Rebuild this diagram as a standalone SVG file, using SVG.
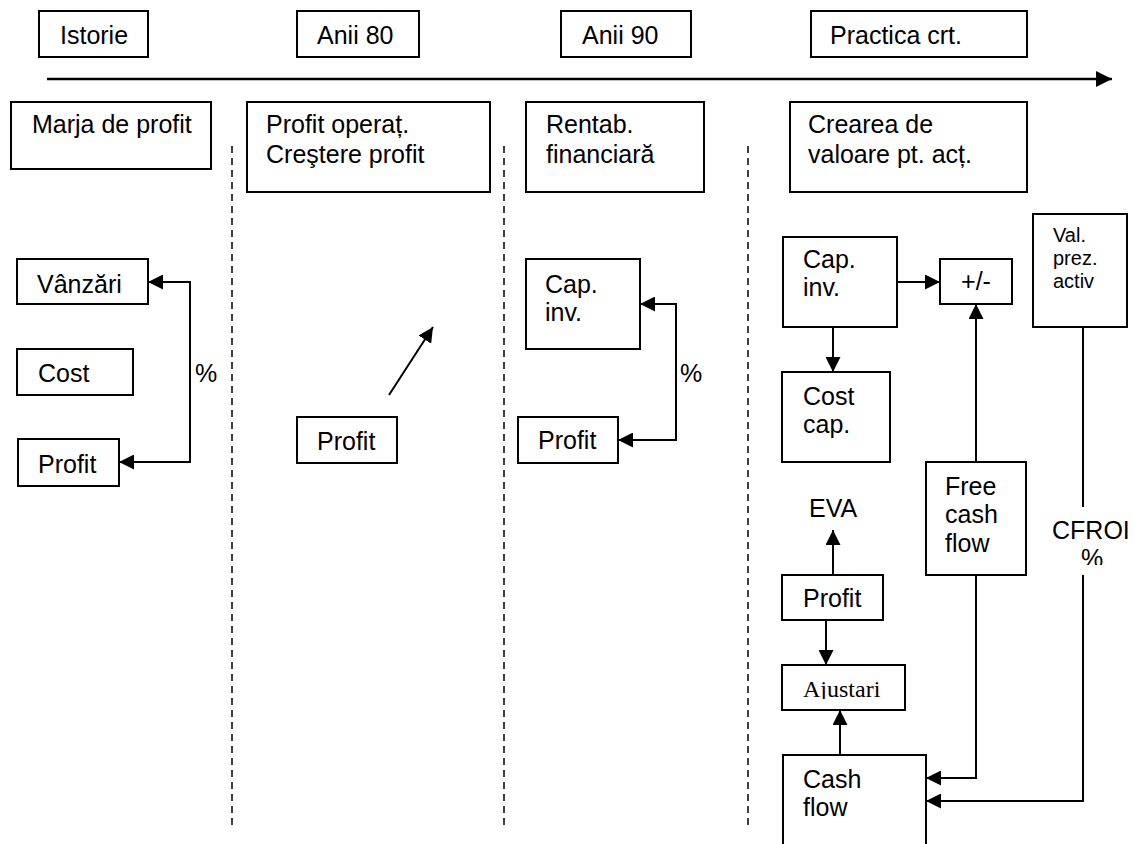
<svg xmlns="http://www.w3.org/2000/svg" width="1134" height="844" viewBox="0 0 1134 844">
<style>
.box{fill:#fff;stroke:#000;stroke-width:2}
.t{font-family:"Liberation Sans",Arial,sans-serif;font-size:25px;fill:#000}
.s{font-family:"Liberation Sans",Arial,sans-serif;font-size:20px;fill:#000}
.serif{font-family:"Liberation Serif","Times New Roman",serif;font-size:24px;fill:#000}
.c{fill:none;stroke:#000;stroke-width:2}
.dash{fill:none;stroke:#000;stroke-width:1.5;stroke-dasharray:7 5}
</style>
<defs>
<marker id="ah" markerUnits="userSpaceOnUse" markerWidth="15" markerHeight="15" refX="15" refY="7.5" orient="auto-start-reverse">
<path d="M0,0 L15,7.5 L0,15 z" fill="#000"/>
</marker>
<marker id="big" markerUnits="userSpaceOnUse" markerWidth="16" markerHeight="16" refX="16" refY="8" orient="auto">
<path d="M0,0 L16,8 L0,16 z" fill="#000"/>
</marker>
<clipPath id="clipPct"><rect x="1060" y="540" width="74" height="25"/></clipPath>
<clipPath id="clipAj"><rect x="782" y="665" width="123" height="34"/></clipPath>
</defs>
<rect width="1134" height="844" fill="#fff"/>

<g id="dividers">
<line class="dash" x1="232" y1="146" x2="232" y2="825"/>
<line class="dash" x1="504" y1="146" x2="504" y2="825"/>
<line class="dash" x1="748" y1="146" x2="748" y2="825"/>
</g>

<g id="connectors">
<line class="c" x1="47" y1="79" x2="1112" y2="79" style="stroke-width:2.5" marker-end="url(#big)"/>
<path class="c" d="M148 282 H190 V462 H119" marker-start="url(#ah)" marker-end="url(#ah)"/>
<line class="c" x1="389" y1="395" x2="433" y2="327" marker-end="url(#ah)"/>
<path class="c" d="M640 304 H676 V440 H618" marker-start="url(#ah)" marker-end="url(#ah)"/>
<line class="c" x1="897" y1="282" x2="940" y2="282" marker-end="url(#ah)"/>
<line class="c" x1="833" y1="327" x2="833" y2="372" marker-end="url(#ah)"/>
<line class="c" x1="976" y1="462" x2="976" y2="304" marker-end="url(#ah)"/>
<line class="c" x1="833" y1="575" x2="833" y2="530" marker-end="url(#ah)"/>
<line class="c" x1="826" y1="620" x2="826" y2="665" marker-end="url(#ah)"/>
<line class="c" x1="840" y1="755" x2="840" y2="710" marker-end="url(#ah)"/>
<path class="c" d="M976 575 V778 H926" marker-end="url(#ah)"/>
<path class="c" d="M1083 327 V507"/>
<path class="c" d="M1083 575 V801 H926" marker-end="url(#ah)"/>
<text class="t" x="195" y="382">%</text>
<text class="t" x="680" y="382">%</text>
</g>

<g id="istorie"><rect class="box" x="39" y="11" width="109" height="46"/><text class="t" x="60" y="44">Istorie</text></g>
<g id="anii80"><rect class="box" x="297" y="11" width="122" height="46"/><text class="t" x="317" y="44">Anii 80</text></g>
<g id="anii90"><rect class="box" x="561" y="11" width="130" height="46"/><text class="t" x="582" y="44">Anii 90</text></g>
<g id="practica"><rect class="box" x="811" y="11" width="216" height="46"/><text class="t" x="830" y="44">Practica crt.</text></g>

<g id="marja"><rect class="box" x="11" y="102" width="200" height="67"/><text class="t" x="32" y="133">Marja de profit</text></g>
<g id="profitoperat"><rect class="box" x="247" y="102" width="243" height="90"/><text class="t" x="266" y="133">Profit operaț.</text><text class="t" x="266" y="163">Creştere profit</text></g>
<g id="rentab"><rect class="box" x="526" y="102" width="178" height="90"/><text class="t" x="546" y="133">Rentab.</text><text class="t" x="546" y="163">financiară</text></g>
<g id="crearea"><rect class="box" x="790" y="102" width="237" height="90"/><text class="t" x="808" y="133">Crearea de</text><text class="t" x="808" y="163">valoare pt. acț.</text></g>

<g id="vanzari"><rect class="box" x="17" y="259" width="131" height="45"/><text class="t" x="37" y="293">Vânzări</text></g>
<g id="cost"><rect class="box" x="17" y="349" width="116" height="46"/><text class="t" x="38" y="382">Cost</text></g>
<g id="profit1"><rect class="box" x="18" y="439" width="101" height="47"/><text class="t" x="38" y="473">Profit</text></g>

<g id="profit2"><rect class="box" x="297" y="417" width="100" height="46"/><text class="t" x="317" y="450">Profit</text></g>

<g id="capinv1"><rect class="box" x="526" y="259" width="114" height="90"/><text class="t" x="545" y="293">Cap.</text><text class="t" x="545" y="321">inv.</text></g>
<g id="profit3"><rect class="box" x="518" y="417" width="100" height="46"/><text class="t" x="538" y="449">Profit</text></g>

<g id="capinv2"><rect class="box" x="783" y="237" width="114" height="90"/><text class="t" x="803" y="268">Cap.</text><text class="t" x="803" y="296">inv.</text></g>
<g id="plusminus"><rect class="box" x="940" y="259" width="72" height="45"/><text class="t" x="976" y="290" text-anchor="middle">+/-</text></g>
<g id="valprez"><rect class="box" x="1033" y="214" width="94" height="113"/><text class="s" x="1053" y="242">Val.</text><text class="s" x="1053" y="265">prez.</text><text class="s" x="1053" y="288">activ</text></g>
<g id="costcap"><rect class="box" x="782" y="372" width="108" height="90"/><text class="t" x="803" y="405">Cost</text><text class="t" x="803" y="433">cap.</text></g>
<g id="fcf"><rect class="box" x="926" y="462" width="100" height="113"/><text class="t" x="945" y="495">Free</text><text class="t" x="945" y="523">cash</text><text class="t" x="945" y="552">flow</text></g>
<g id="eva"><text class="t" x="809" y="517">EVA</text></g>
<g id="cfroi"><text class="t" x="1052" y="539">CFROI</text><text class="t" x="1081" y="567" clip-path="url(#clipPct)">%</text></g>
<g id="profit4"><rect class="box" x="782" y="575" width="101" height="45"/><text class="t" x="803" y="607">Profit</text></g>
<g id="ajustari"><rect class="box" x="782" y="665" width="123" height="45"/><text class="serif" x="803" y="697" clip-path="url(#clipAj)">Ajustari</text></g>
<g id="cashflow"><rect class="box" x="783" y="755" width="143" height="100"/><text class="t" x="803" y="788">Cash</text><text class="t" x="803" y="816">flow</text></g>
</svg>
